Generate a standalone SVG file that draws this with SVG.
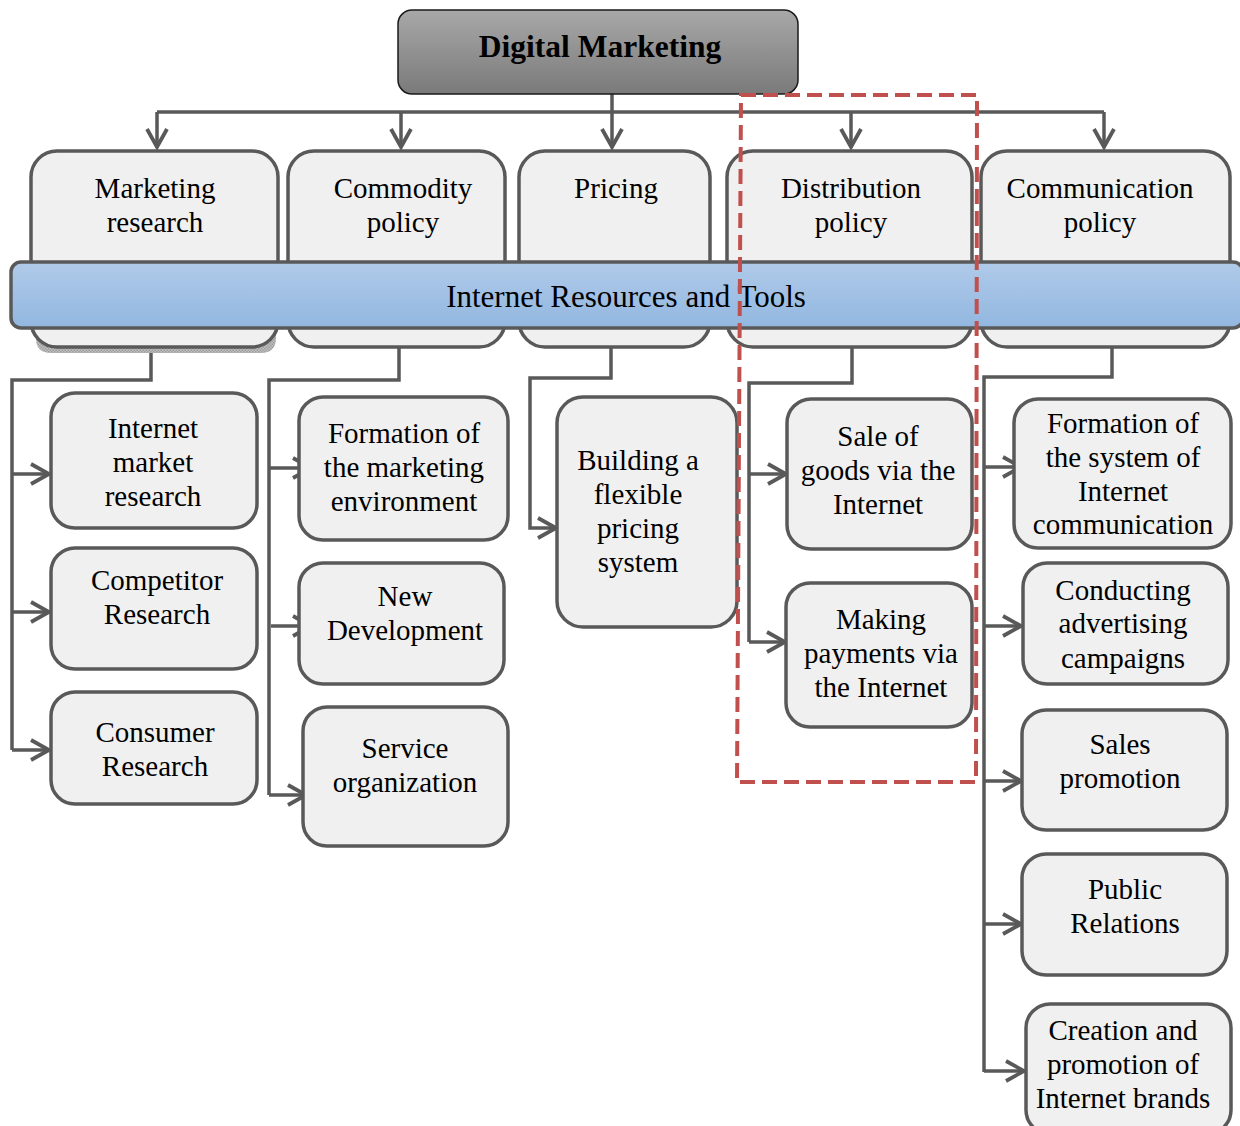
<svg xmlns="http://www.w3.org/2000/svg" width="1240" height="1126" viewBox="0 0 1240 1126">
  <defs>
    <linearGradient id="gTitle" x1="0" y1="0" x2="0" y2="1">
      <stop offset="0" stop-color="#a8a8a8"/>
      <stop offset="1" stop-color="#7a7a7a"/>
    </linearGradient>
    <linearGradient id="gBand" x1="0" y1="0" x2="0" y2="1">
      <stop offset="0" stop-color="#b0cae9"/>
      <stop offset="1" stop-color="#92b7e0"/>
    </linearGradient>
    <pattern id="grain" width="3" height="3" patternUnits="userSpaceOnUse">
      <rect width="3" height="3" fill="#c4c4c4"/>
      <rect width="1.5" height="1.5" fill="#9a9a9a"/>
      <rect x="1.5" y="1.5" width="1.5" height="1.5" fill="#9a9a9a"/>
    </pattern>
    <marker id="chev" markerUnits="userSpaceOnUse" viewBox="-22 -13 25 26" refX="0" refY="0" markerWidth="25" markerHeight="26" orient="auto">
      <path d="M-18 -10 L0 0 L-18 10" fill="none" stroke="#595959" stroke-width="3.8"/>
    </marker>
  </defs>
  <style>
    .box { fill: #f0f0f0; stroke: #595959; stroke-width: 3.5; }
    .conn { fill: none; stroke: #595959; stroke-width: 3.5; }
    .arr { fill: none; stroke: #595959; stroke-width: 3.5; marker-end: url(#chev); }
    text { font-family: "Liberation Serif", "Times New Roman", serif; font-size: 29px; fill: #000; text-anchor: middle; }
    .title { font-size: 31.5px; font-weight: bold; }
    .band { font-size: 31px; }
  </style>

  <rect width="1240" height="1126" fill="#ffffff"/>

  <!-- connectors -->
  <g id="connectors">
    <path class="conn" d="M612 94 V112 M157 112 H1104"/>
    <path class="arr" d="M157 112 V147"/>
    <path class="arr" d="M401 112 V147"/>
    <path class="arr" d="M612 112 V147"/>
    <path class="arr" d="M851 112 V147"/>
    <path class="arr" d="M1104 112 V147"/>

    <path class="conn" d="M151 346 V380 H12 V750"/>
    <path class="arr" d="M12 474 H49"/>
    <path class="arr" d="M12 612 H49"/>
    <path class="arr" d="M12 750 H49"/>

    <path class="conn" d="M399 346 V380 H269 V795"/>
    <path class="arr" d="M269 468 H311"/>
    <path class="arr" d="M271 626 H311"/>
    <path class="arr" d="M269 795 H306"/>

    <path class="arr" d="M611 346 V378 H530 V528 H556"/>

    <path class="conn" d="M852 346 V383 H749 V642"/>
    <path class="arr" d="M749 474 H786"/>
    <path class="arr" d="M749 642 H785"/>

    <path class="conn" d="M1112 346 V377 H984 V1072"/>
    <path class="arr" d="M984 467 H1021"/>
    <path class="arr" d="M984 626 H1021"/>
    <path class="arr" d="M984 781 H1021"/>
    <path class="arr" d="M984 924 H1021"/>
    <path class="arr" d="M984 1071 H1024"/>
  </g>

  <!-- root -->
  <g id="digital-marketing">
    <rect x="398" y="10" width="400" height="84" rx="14" fill="url(#gTitle)" stroke="#1a1a1a" stroke-width="1.5"/>
    <text class="title" x="600" y="57">Digital Marketing</text>
  </g>

  <!-- second level -->
  <g id="marketing-research">
    <path d="M36 332 H276 V338 Q276 353 261 353 H51 Q36 353 36 338 Z" fill="url(#grain)"/>
    <rect class="box" x="31" y="151" width="247" height="196" rx="26"/>
    <text x="155" y="198">Marketing</text>
    <text x="155" y="232">research</text>
  </g>
  <g id="commodity-policy">
    <rect class="box" x="288" y="151" width="217" height="196" rx="26"/>
    <text x="403" y="198">Commodity</text>
    <text x="403" y="232">policy</text>
  </g>
  <g id="pricing">
    <rect class="box" x="519" y="151" width="191" height="196" rx="26"/>
    <text x="616" y="198">Pricing</text>
  </g>
  <g id="distribution-policy">
    <rect class="box" x="727" y="151" width="245" height="196" rx="26"/>
    <text x="851" y="198">Distribution</text>
    <text x="851" y="232">policy</text>
  </g>
  <g id="communication-policy">
    <rect class="box" x="981" y="151" width="249" height="196" rx="26"/>
    <text x="1100" y="198">Communication</text>
    <text x="1100" y="232">policy</text>
  </g>

  <!-- shared band -->
  <g id="internet-resources">
    <rect x="11" y="262" width="1232" height="66" rx="10" fill="url(#gBand)" stroke="#595959" stroke-width="3.5"/>
    <text class="band" x="626" y="307">Internet Resources and Tools</text>
  </g>

  <!-- marketing research children -->
  <g id="internet-market-research">
    <rect class="box" x="51" y="393" width="206" height="135" rx="24"/>
    <text x="153" y="438">Internet</text>
    <text x="153" y="472">market</text>
    <text x="153" y="506">research</text>
  </g>
  <g id="competitor-research">
    <rect class="box" x="51" y="548" width="206" height="121" rx="24"/>
    <text x="157" y="590">Competitor</text>
    <text x="157" y="624">Research</text>
  </g>
  <g id="consumer-research">
    <rect class="box" x="51" y="692" width="206" height="112" rx="24"/>
    <text x="155" y="742">Consumer</text>
    <text x="155" y="776">Research</text>
  </g>

  <!-- commodity policy children -->
  <g id="marketing-environment">
    <rect class="box" x="299" y="397" width="209" height="143" rx="24"/>
    <text x="404" y="443">Formation of</text>
    <text x="404" y="477">the marketing</text>
    <text x="404" y="511">environment</text>
  </g>
  <g id="new-development">
    <rect class="box" x="299" y="563" width="205" height="121" rx="24"/>
    <text x="405" y="606">New</text>
    <text x="405" y="640">Development</text>
  </g>
  <g id="service-organization">
    <rect class="box" x="303" y="707" width="205" height="139" rx="24"/>
    <text x="405" y="758">Service</text>
    <text x="405" y="792">organization</text>
  </g>

  <!-- pricing child -->
  <g id="flexible-pricing">
    <rect class="box" x="557" y="397" width="180" height="230" rx="26"/>
    <text x="638" y="470">Building a</text>
    <text x="638" y="504">flexible</text>
    <text x="638" y="538">pricing</text>
    <text x="638" y="572">system</text>
  </g>

  <!-- distribution policy children -->
  <g id="sale-of-goods">
    <rect class="box" x="787" y="399" width="185" height="150" rx="24"/>
    <text x="878" y="446">Sale of</text>
    <text x="878" y="480">goods via the</text>
    <text x="878" y="514">Internet</text>
  </g>
  <g id="making-payments">
    <rect class="box" x="786" y="583" width="186" height="144" rx="24"/>
    <text x="881" y="629">Making</text>
    <text x="881" y="663">payments via</text>
    <text x="881" y="697">the Internet</text>
  </g>

  <!-- communication policy children -->
  <g id="internet-communication">
    <rect class="box" x="1014" y="399" width="217" height="149" rx="24"/>
    <text x="1123" y="433">Formation of</text>
    <text x="1123" y="467">the system of</text>
    <text x="1123" y="501">Internet</text>
    <text x="1123" y="534">communication</text>
  </g>
  <g id="advertising-campaigns">
    <rect class="box" x="1023" y="563" width="205" height="121" rx="24"/>
    <text x="1123" y="600">Conducting</text>
    <text x="1123" y="633">advertising</text>
    <text x="1123" y="668">campaigns</text>
  </g>
  <g id="sales-promotion">
    <rect class="box" x="1022" y="710" width="205" height="120" rx="24"/>
    <text x="1120" y="754">Sales</text>
    <text x="1120" y="788">promotion</text>
  </g>
  <g id="public-relations">
    <rect class="box" x="1022" y="854" width="205" height="121" rx="24"/>
    <text x="1125" y="899">Public</text>
    <text x="1125" y="933">Relations</text>
  </g>
  <g id="internet-brands">
    <rect class="box" x="1026" y="1004" width="205" height="130" rx="24"/>
    <text x="1123" y="1040">Creation and</text>
    <text x="1123" y="1074">promotion of</text>
    <text x="1123" y="1108">Internet brands</text>
  </g>

  <!-- highlighted distribution area -->
  <path d="M741 95 L977 95 L976 782 L737 782 Z" fill="none" stroke="#c0504d" stroke-width="4" stroke-dasharray="15 7"/>
</svg>
